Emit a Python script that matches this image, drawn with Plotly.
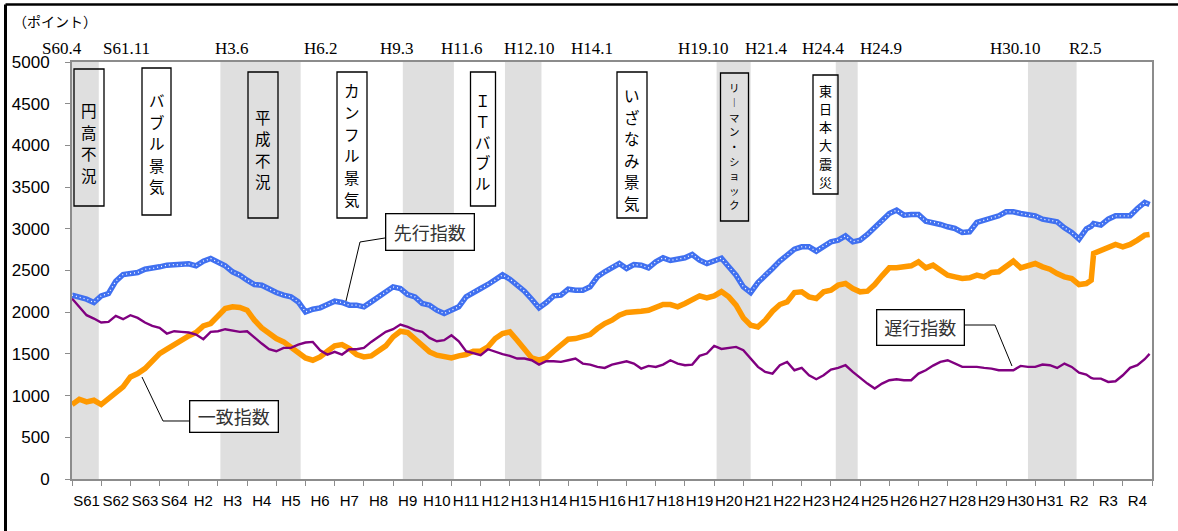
import plotly.graph_objects as go

# ---------------------------------------------------------------- data
START_YEAR = 1986
# sampled months (0 = Jan 1986): quarterly, plus Dec 2020 and Dec 2022
sample_months = sorted(set(range(0, 444, 3)) | {419, 443})

leading_index = [
    2204, 2184, 2156, 2116, 2196, 2224, 2372, 2452, 2460, 2476,
    2516, 2524, 2544, 2564, 2572, 2564, 2580, 2556, 2612, 2644,
    2600, 2556, 2484, 2444, 2384, 2332, 2324, 2276, 2236, 2204,
    2184, 2124, 2004, 2036, 2052, 2092, 2132, 2116, 2084, 2084,
    2064, 2124, 2184, 2244, 2304, 2284, 2212, 2184, 2104, 2084,
    2024, 1984, 2024, 2064, 2184, 2244, 2284, 2332, 2384, 2448,
    2396, 2332, 2252, 2156, 2052, 2116, 2196, 2204, 2276, 2264,
    2264, 2304, 2424, 2484, 2544, 2584, 2524, 2572, 2564, 2532,
    2604, 2652, 2620, 2636, 2652, 2692, 2624, 2584, 2620, 2648,
    2544, 2444, 2304, 2236, 2356, 2452, 2524, 2612, 2684, 2756,
    2784, 2784, 2732, 2796, 2844, 2864, 2916, 2844, 2864, 2932,
    3012, 3084, 3184, 3224, 3164, 3172, 3172, 3092, 3080, 3052,
    3024, 3004, 2956, 2964, 3076, 3104, 3132, 3156, 3204, 3204,
    3184, 3164, 3156, 3116, 3104, 3084, 3012, 2956, 2876, 3000,
    3030,
    3064, 3044, 3116, 3156, 3156, 3156, 3244, 3316,
    3292,
]

coincident_index = [
    893, 956, 924, 944, 893, 964, 1024, 1104, 1224, 1264,
    1324, 1404, 1504, 1556, 1612, 1676, 1716, 1756, 1836, 1864,
    1944, 2044, 2064, 2056, 2024, 1904, 1812, 1744, 1684, 1644,
    1584, 1524, 1452, 1424, 1464, 1532, 1596, 1612, 1564, 1492,
    1464, 1476, 1544, 1596, 1704, 1772, 1756, 1684, 1612, 1524,
    1484, 1464, 1452, 1476, 1492, 1532, 1532, 1584, 1684, 1744,
    1764, 1664, 1556, 1452, 1424, 1452, 1532, 1604, 1676, 1684,
    1704, 1732, 1804, 1864, 1904, 1964, 1996, 1996, 2012, 2024,
    2064, 2092, 2092, 2064, 2104, 2144, 2196, 2172, 2196, 2248,
    2184, 2084, 1932, 1844, 1824, 1904, 2012, 2092, 2124, 2236,
    2244, 2184, 2164, 2244, 2264, 2324, 2344, 2284, 2244, 2252,
    2332, 2436, 2532, 2532, 2544, 2556, 2604, 2532, 2564, 2504,
    2444, 2424, 2404, 2412, 2444, 2424, 2476, 2484, 2544, 2612,
    2532, 2564, 2584, 2544, 2516, 2464, 2424, 2404, 2332, 2344,
    2384,
    2704, 2744, 2784, 2812, 2784, 2812, 2864, 2924,
    2932,
]

lagging_index = [
    2164, 2064, 1964, 1924, 1876, 1884, 1956, 1916, 1964, 1932,
    1876, 1836, 1812, 1744, 1772, 1764, 1756, 1732, 1676, 1764,
    1772, 1796, 1784, 1764, 1772, 1692, 1624, 1556, 1532, 1572,
    1572, 1612, 1636, 1644, 1544, 1492, 1524, 1492, 1556, 1556,
    1572, 1644, 1704, 1764, 1796, 1852, 1824, 1784, 1764, 1692,
    1652, 1664, 1724, 1652, 1532, 1504, 1484, 1556, 1524, 1498,
    1476, 1444, 1444, 1424, 1372, 1412, 1412, 1404, 1424, 1444,
    1384, 1372, 1344, 1332, 1372, 1396, 1412, 1384, 1324, 1356,
    1344, 1372, 1424, 1384, 1364, 1372, 1476, 1504, 1596, 1560,
    1572, 1584, 1544, 1444, 1344, 1284, 1264, 1364, 1404, 1304,
    1332, 1244, 1196, 1244, 1312, 1332, 1364, 1284, 1212, 1144,
    1084, 1144, 1184, 1196, 1184, 1184, 1264, 1304, 1360, 1404,
    1424, 1384, 1344, 1344, 1344, 1332, 1324, 1304, 1304, 1304,
    1356, 1344, 1344, 1372, 1364, 1332, 1384, 1344, 1276, 1252,
    1212,
    1204, 1204, 1164, 1172, 1244, 1332, 1364, 1436,
    1500,
]

year_labels = (["S61", "S62", "S63", "S64"]
               + [f"H{n}" for n in range(2, 32)]
               + ["R2", "R3", "R4"])

# recession periods (peak month, trough month)
recessions = [
    ("1985-06", "1986-11"), ("1991-02", "1993-10"), ("1997-05", "1999-01"),
    ("2000-11", "2002-01"), ("2008-02", "2009-03"), ("2012-03", "2012-11"),
    ("2018-10", "2020-05"),
]

turning_point_labels = [
    "S60.4", "S61.11", "H3.6", "H6.2", "H9.3", "H11.6", "H12.10", "H14.1",
    "H19.10", "H21.4", "H24.4", "H24.9", "H30.10", "R2.5",
]

episode_labels = ["円高不況", "バブル景気", "平成不況", "カンフル景気", "ＩＴバブル",
                  "いざなみ景気", "リーマン・ショック", "東日本大震災"]

# ---------------------------------------------------------------- layout helpers
W, H = 1178, 531
ML, MR, MT, MB = 72, 26, 62, 52
PW, PH = W - ML - MR, H - MT - MB
END_YEAR = START_YEAR + len(year_labels)


def paper(xp, yp):
    """Pixel position on the page -> paper coordinates."""
    return (xp - ML) / PW, (H - MB - yp) / PH


def ym(s):
    y, m = s.split("-")
    return int(y) + (int(m) - 1) / 12


xs = [START_YEAR + m / 12 for m in sample_months]

fig = go.Figure()

# recession shading
shapes = []
for peak, trough in recessions:
    x0 = max(ym(peak), START_YEAR)
    x1 = ym(trough) + 1 / 12
    shapes.append(dict(type="rect", xref="x", yref="paper", x0=x0, x1=x1,
                       y0=0, y1=1, fillcolor="#dfdfdf", line_width=0,
                       layer="below"))

fig.add_trace(go.Scatter(x=xs, y=coincident_index, mode="lines",
                         line=dict(color="#ff9900", width=5.5),
                         name="一致指数", hoverinfo="skip"))
fig.add_trace(go.Scatter(x=xs, y=lagging_index, mode="lines",
                         line=dict(color="#800080", width=2.4),
                         name="遅行指数", hoverinfo="skip"))
fig.add_trace(go.Scatter(x=xs, y=leading_index, mode="lines",
                         line=dict(color="#4070f0", width=5.5),
                         name="先行指数", hoverinfo="skip"))
fig.add_trace(go.Scatter(x=xs, y=leading_index, mode="lines",
                         line=dict(color="#ffffff", width=1.3, dash="1px,3px"),
                         showlegend=False, hoverinfo="skip"))

annotations = []

# turning point dates above the plot
tp_centres = [62, 126, 232, 321, 397, 461, 529, 592, 703, 766, 823, 881, 1015, 1085]
for text, cx in zip(turning_point_labels, tp_centres):
    px_, py_ = paper(cx, 48.5)
    annotations.append(dict(text=text, x=px_, y=py_, xref="paper", yref="paper",
                            xanchor="center", yanchor="middle", showarrow=False,
                            font=dict(family="Liberation Serif", size=17, color="#000")))

# vertical captions in boxes: (left, right, top, bottom, first glyph centre, pitch, font size)
episode_boxes = [
    (74, 104, 69, 206, 110, 21.5, 15.5),
    (142, 171, 68, 215, 100, 21.6, 15.5),
    (248, 278, 72, 218, 117, 21.3, 15.5),
    (337, 367, 72, 218, 90, 21.8, 15.5),
    (470.5, 495.5, 72, 206, 100, 20.8, 15.5),
    (617, 647, 72, 218, 95, 21.6, 15.5),
    (720.5, 748.5, 73, 221, 88, 14.6, 10.5),
    (813, 838, 75, 194, 90, 18.3, 13),
]
for text, (x0, x1, y0, y1, first, pitch, fs) in zip(episode_labels, episode_boxes):
    x_a, y_a = paper(x0, y0)
    x_b, y_b = paper(x1, y1)
    shapes.append(dict(type="rect", xref="paper", yref="paper", x0=x_a, x1=x_b,
                       y0=y_b, y1=y_a, line=dict(color="#000", width=1.3),
                       fillcolor="rgba(0,0,0,0)", layer="above"))
    for k, c in enumerate(text):
        glyph = "︱" if c == "ー" else c
        cx, cy = paper((x0 + x1) / 2, first + k * pitch)
        annotations.append(dict(text=glyph, x=cx, y=cy, xref="paper", yref="paper",
                                xanchor="center", yanchor="middle", showarrow=False,
                                font=dict(family="Noto Sans CJK JP", size=fs,
                                          color="#000")))

# series call-outs: (text, left, right, top, bottom, leader path)
callouts = [
    ("先行指数", 385, 474, 213, 250, [(385, 238), (360, 242), (346, 301)]),
    ("一致指数", 189, 278, 400, 432, [(189, 421), (163, 421), (142, 377)]),
    ("遅行指数", 876, 964, 309, 345, [(964, 325), (995, 325), (1012, 366)]),
]
for text, x0, x1, y0, y1, leader in callouts:
    cx, cy = paper((x0 + x1) / 2, (y0 + y1) / 2)
    annotations.append(dict(text=text, x=cx, y=cy, xref="paper", yref="paper",
                            xanchor="center", yanchor="middle", showarrow=False,
                            width=x1 - x0 - 2, height=y1 - y0 - 2, borderpad=0,
                            borderwidth=1.3, bordercolor="#000", bgcolor="#ffffff",
                            font=dict(family="Noto Sans CJK JP", size=18, color="#333")))
    pts = [paper(a, b) for a, b in leader]
    path = "M " + " L ".join(f"{a:.5f},{b:.5f}" for a, b in pts)
    shapes.append(dict(type="path", xref="paper", yref="paper", path=path,
                       line=dict(color="#000", width=1), layer="above"))

# unit label
ux, uy = paper(11, 21)
annotations.append(dict(text="（ポイント）", x=ux, y=uy, xref="paper", yref="paper",
                        xanchor="left", yanchor="middle", showarrow=False,
                        font=dict(family="Noto Sans CJK JP", size=14, color="#000")))

# frame lines at the top and left of the page
fx0, fy0 = paper(5.5, 4.5)
fx1, fy1 = paper(W + 5, H + 5)
shapes.append(dict(type="line", xref="paper", yref="paper", x0=fx0, x1=fx1,
                   y0=fy0, y1=fy0, line=dict(color="#000", width=2.5)))
shapes.append(dict(type="line", xref="paper", yref="paper", x0=fx0, x1=fx0,
                   y0=fy0, y1=fy1, line=dict(color="#000", width=3)))

fig.update_layout(
    width=W, height=H,
    margin=dict(l=ML, r=MR, t=MT, b=MB, pad=0),
    paper_bgcolor="#ffffff", plot_bgcolor="#ffffff",
    showlegend=False,
    shapes=shapes, annotations=annotations,
    xaxis=dict(range=[START_YEAR, END_YEAR], tickmode="array",
               tickvals=[START_YEAR + i + 0.5 for i in range(len(year_labels))],
               ticktext=year_labels, ticks="", tickangle=0, showgrid=False,
               zeroline=False, showline=True, linecolor="#8c8c8c", linewidth=2,
               mirror=True, ticklabelstandoff=7,
               tickfont=dict(family="Liberation Sans", size=15, color="#000"),
               minor=dict(tickmode="array",
                          tickvals=list(range(START_YEAR, END_YEAR + 1)),
                          ticks="outside", ticklen=5, tickwidth=1, tickcolor="#8c8c8c")),
    yaxis=dict(range=[0, 5000], tickmode="linear", tick0=0, dtick=500,
               ticks="outside", ticklen=5, tickwidth=1, tickcolor="#8c8c8c",
               showgrid=False, zeroline=False, showline=True, linecolor="#8c8c8c",
               linewidth=2, mirror=True, ticklabelstandoff=12,
               tickfont=dict(family="Liberation Sans", size=17, color="#000")),
)

fig.write_html("out.html")
